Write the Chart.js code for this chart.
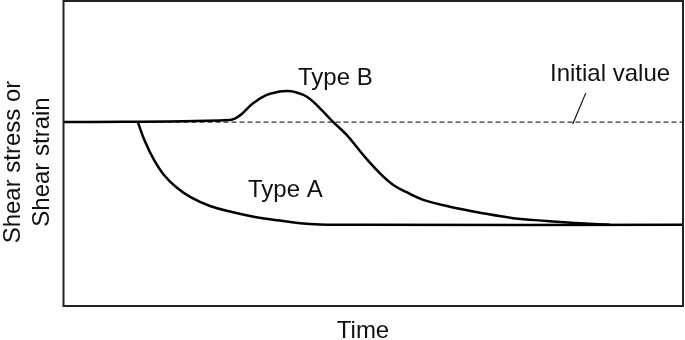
<!DOCTYPE html>
<html>
<head>
<meta charset="utf-8">
<script src="https://cdn.jsdelivr.net/npm/chart.js@4"></script>
<style>
  html, body { margin: 0; padding: 0; background: #fff; }
  #wrap { width: 685px; height: 340px; position: relative; }
</style>
</head>
<body>
<div id="wrap"><canvas id="shearChart"></canvas></div>
<script>
// time axis runs 0..100, response axis 0..100 (arbitrary units)
const initialValue = 60.3;

// Type A leaves the common baseline at t = 12 (the flat part before it is shared with Type B)
const typeATime  = [12, 13.16, 14.61, 16.22, 18.16, 20.58, 23.65, 27.2, 30.9, 34.96, 38.2, 41.4, 47.9, 100];
const typeAValue = [60.3, 53.9, 47.9, 42.95, 39.0, 35.6, 32.8, 30.8, 29.2, 28.0, 27.1, 26.7, 26.6, 26.6];

const typeBTime  = [0, 26.9, 28.5, 30.6, 32.8, 34.9, 36.0, 37.1, 39.3, 41.4, 43.55, 45.71, 48.39, 51.09, 53.24, 55.4, 58.08, 61.86, 67.23, 72.6, 78.0, 83.4, 88.2];
const typeBValue = [60.3, 61.0, 62.5, 66.5, 69.2, 70.3, 70.5, 70.3, 68.6, 64.8, 60.3, 56.1, 49.5, 43.5, 39.7, 37.3, 34.8, 32.8, 30.6, 28.8, 27.9, 27.1, 26.6];

const leaderTime  = [84.3, 82.2];
const leaderValue = [69.8, 59.7];

const labelFont = "24px 'Liberation Sans', Arial, sans-serif";

const toPoints = (xs, ys) => xs.map((x, i) => ({ x, y: ys[i] }));

// frame, axis labels and curve annotations
const decorations = {
  id: "decorations",
  afterDraw(chart) {
    const { ctx, chartArea: a } = chart;
    ctx.save();
    ctx.strokeStyle = "#222";
    ctx.lineWidth = 2;
    ctx.strokeRect(a.left, a.top, a.right - a.left, a.bottom - a.top);

    ctx.fillStyle = "#111";
    ctx.font = labelFont;
    ctx.textBaseline = "alphabetic";

    ctx.textAlign = "left";
    ctx.fillText("Type B", 298, 85);
    ctx.fillText("Type A", 248, 197);
    ctx.fillText("Initial value", 550, 81);

    ctx.textAlign = "center";
    ctx.fillText("Time", 363, 338);

    ctx.translate(19.5, 162);
    ctx.rotate(-Math.PI / 2);
    ctx.fillText("Shear stress or", 0, 0);
    ctx.fillText("Shear strain", 0, 29.5);
    ctx.restore();
  }
};

new Chart(document.getElementById("shearChart"), {
  type: "line",
  data: {
    datasets: [
      {
        label: "Type A",
        data: toPoints(typeATime, typeAValue),
        borderColor: "#000",
        borderWidth: 2.5,
        tension: 0.4,
        pointRadius: 0
      },
      {
        label: "Type B",
        data: toPoints(typeBTime, typeBValue),
        borderColor: "#000",
        borderWidth: 2.5,
        tension: 0.4,
        pointRadius: 0
      },
      {
        label: "Initial value",
        data: toPoints([0, 100], [initialValue, initialValue]),
        borderColor: "#333",
        borderWidth: 1.2,
        borderDash: [5, 3],
        pointRadius: 0
      },
      {
        label: "leader",
        data: toPoints(leaderTime, leaderValue),
        borderColor: "#111",
        borderWidth: 1.2,
        pointRadius: 0
      }
    ]
  },
  options: {
    responsive: true,
    maintainAspectRatio: false,
    animation: false,
    layout: { padding: { left: 63.5, right: 2, top: 1, bottom: 34 } },
    plugins: { legend: { display: false }, tooltip: { enabled: false } },
    scales: {
      x: { type: "linear", min: 0, max: 100, display: false },
      y: { type: "linear", min: 0, max: 100, display: false }
    }
  },
  plugins: [decorations]
});
</script>
</body>
</html>
